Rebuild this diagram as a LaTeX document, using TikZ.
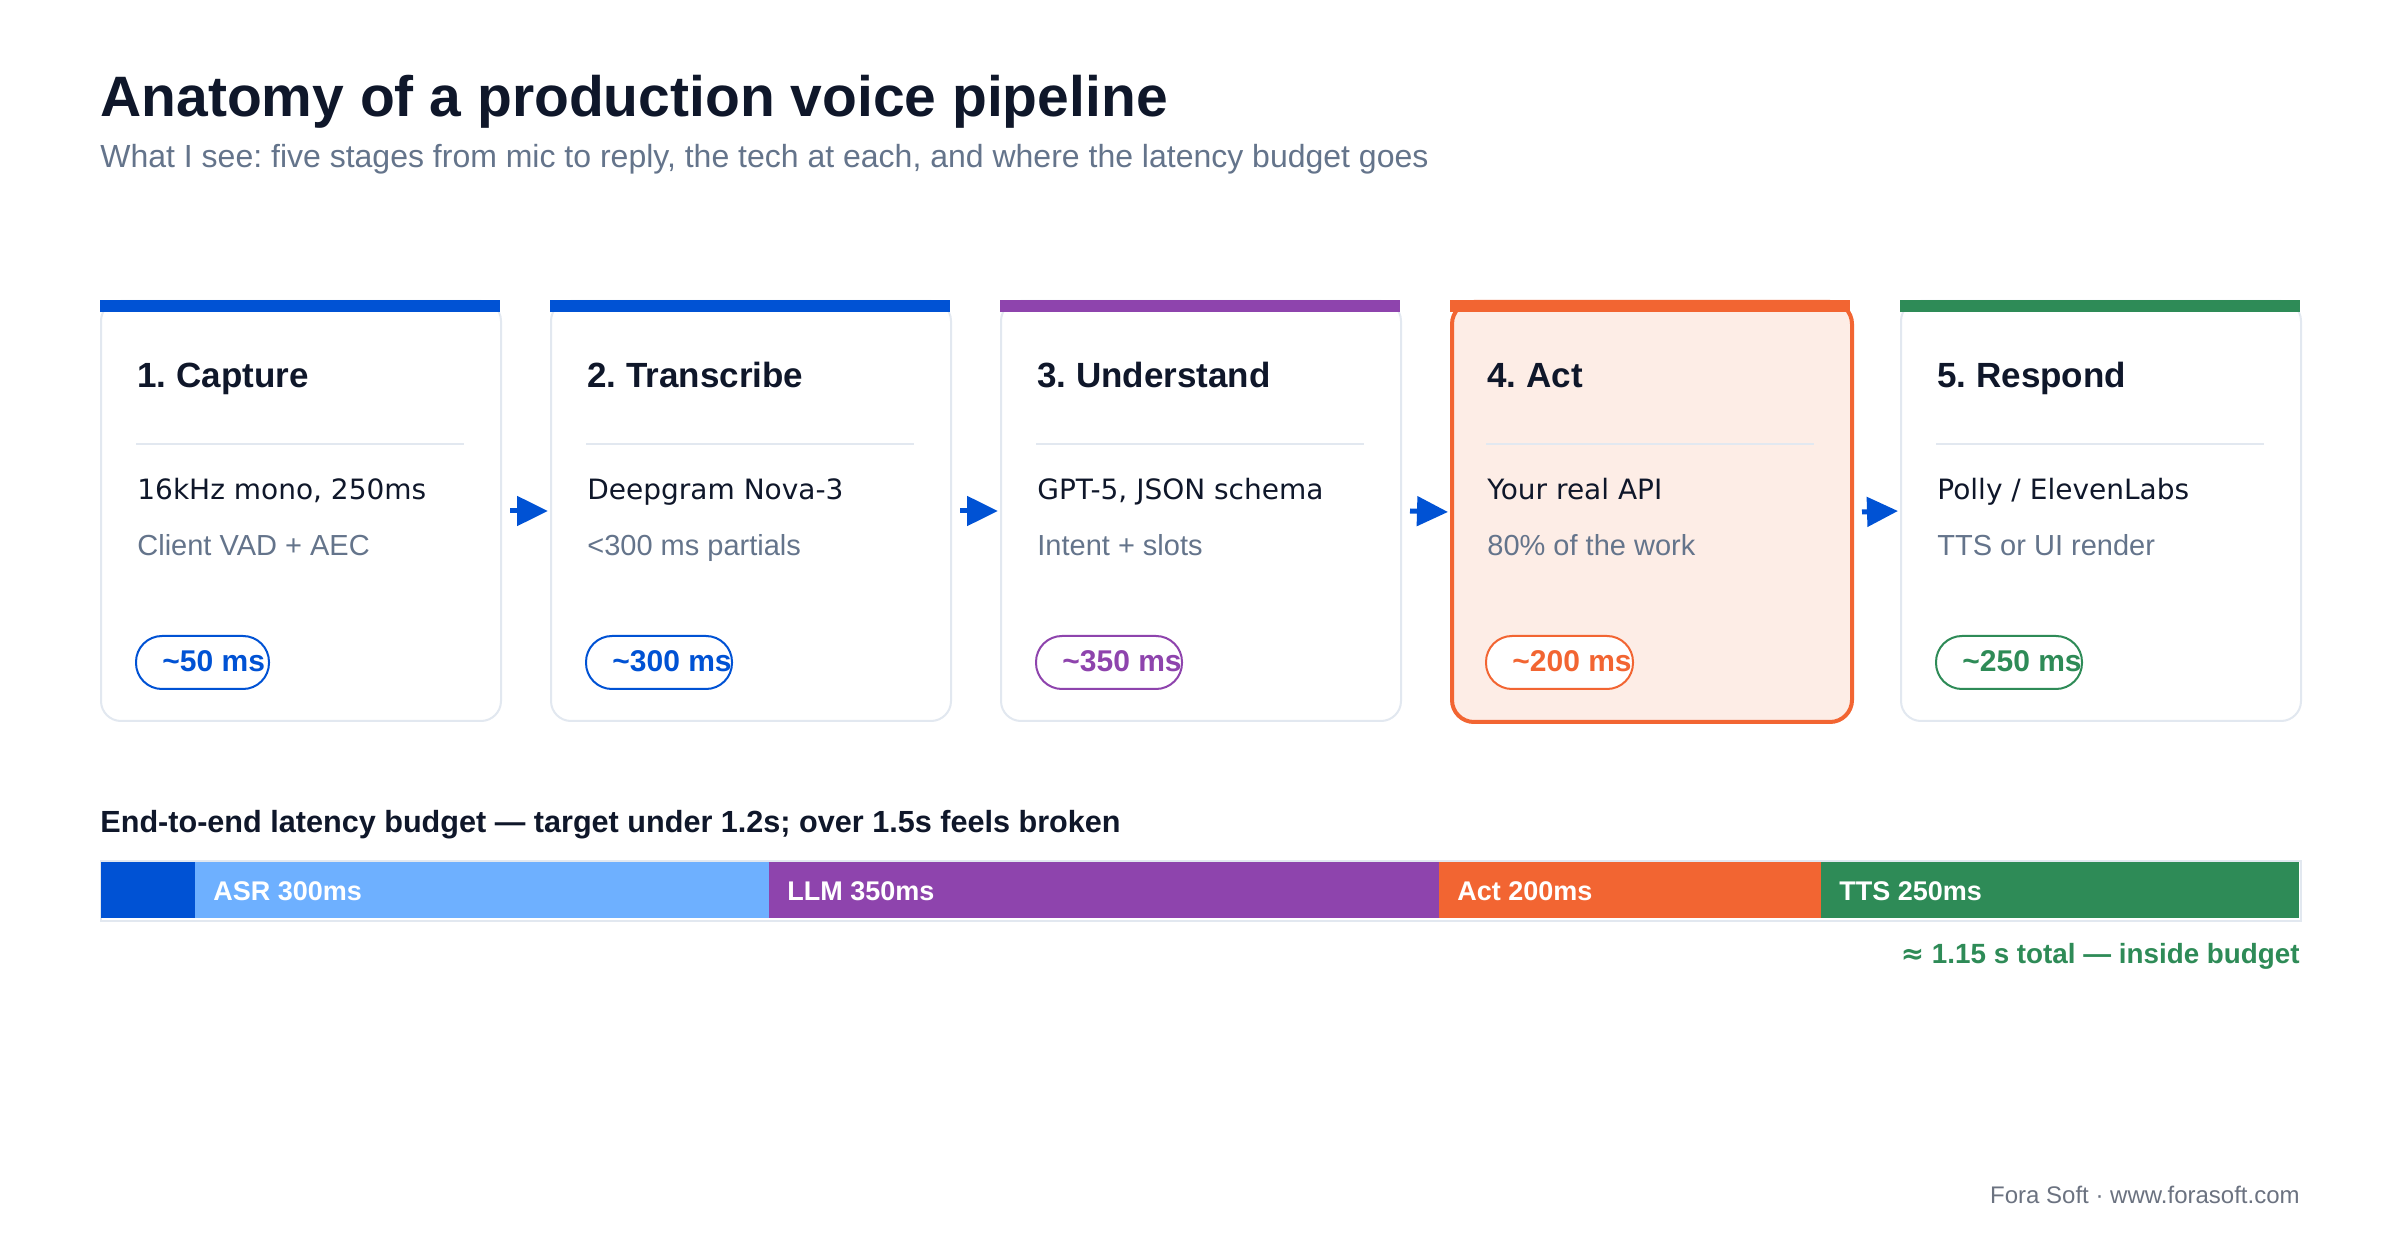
\documentclass[tikz,border=0pt]{standalone}
\usepackage{fontspec}
\setmainfont{Liberation Sans}
\newfontfamily\dejavu{DejaVu Sans}
\usetikzlibrary{arrows.meta}
\frenchspacing
\definecolor{ink}{HTML}{0F172A}
\definecolor{muted}{HTML}{64748B}
\definecolor{cardline}{HTML}{E2E8F0}
\definecolor{cblue}{HTML}{0052D4}
\definecolor{lblue}{HTML}{6EB0FF}
\definecolor{cpurple}{HTML}{8E44AD}
\definecolor{corange}{HTML}{F26532}
\definecolor{cgreen}{HTML}{2E8B57}
\definecolor{actfill}{HTML}{FDEDE6}
\definecolor{foot}{HTML}{6B7280}
\begin{document}
\begin{tikzpicture}[x=0.5pt, y=-0.5pt,
    card/.style={draw=cardline, line width=1pt, fill=white, rounded corners=10pt, minimum width=200pt, minimum height=210pt, inner sep=0pt, anchor=north west},
    topbar/.style={minimum width=200pt, minimum height=6pt, inner sep=0pt, anchor=north west},
    head/.style={anchor=base west, inner sep=0pt, text=ink, font=\fontsize{17.5}{20}\selectfont\bfseries},
    sep/.style={draw=cardline, line width=1pt},
    main/.style={anchor=base west, inner sep=0pt, text=ink, font=\dejavu\fontsize{14}{17}\selectfont},
    note/.style={anchor=base west, inner sep=0pt, text=muted, font=\fontsize{14.5}{17}\selectfont},
    pill/.style={fill=white, line width=1pt, rounded corners=13pt, minimum height=26.5pt, inner sep=0pt, anchor=north west},
    pilltext/.style={anchor=base west, inner sep=0pt, font=\fontsize{15}{18}\selectfont\bfseries},
    flow/.style={draw=cblue, line width=2.5pt, -{Triangle[length=15.5pt, width=14.5pt]}},
    seg/.style={minimum height=28pt, inner sep=0pt, anchor=north west},
    seglbl/.style={anchor=base west, inner sep=0pt, text=white, font=\fontsize{13.5}{16}\selectfont\bfseries}]
  \useasboundingbox[fill=white] (0,0) rectangle (2400,1240);
  % heading
  \node[anchor=base west, inner sep=0pt, text=ink, font=\fontsize{28.5}{34}\selectfont\bfseries] (title) at (100,117) {Anatomy of a production voice pipeline};
  \node[anchor=base west, inner sep=0pt, text=muted, font=\fontsize{16}{19}\selectfont] (subtitle) at (100,168) {What I see: five stages from mic to reply, the tech at each, and where the latency budget goes};
  % stage 1
  \node[card] (c1) at (100,300) {};
  \node[topbar, fill=cblue] (b1) at (c1.north west) {};
  \node[head] (h1) at (137,388) {1. Capture};
  \draw[sep] (136,444) -- (464,444);
  \node[main] (m1) at (137,500) {16kHz mono, 250ms};
  \node[note] (n1) at (137,556) {Client VAD + AEC};
  \node[pill, draw=cblue, minimum width=66.5pt] (p1) at (135,635) {};
  \node[pilltext, text=cblue] (t1) at (162,672) {\textasciitilde50 ms};
  % stage 2
  \node[card] (c2) at (550,300) {};
  \node[topbar, fill=cblue] (b2) at (c2.north west) {};
  \node[head] (h2) at (587,388) {2. Transcribe};
  \draw[sep] (586,444) -- (914,444);
  \node[main] (m2) at (587,500) {Deepgram Nova-3};
  \node[note] (n2) at (587,556) {<300 ms partials};
  \node[pill, draw=cblue, minimum width=73pt] (p2) at (585,635) {};
  \node[pilltext, text=cblue] (t2) at (612,672) {\textasciitilde300 ms};
  % stage 3
  \node[card] (c3) at (1000,300) {};
  \node[topbar, fill=cpurple] (b3) at (c3.north west) {};
  \node[head] (h3) at (1037,388) {3. Understand};
  \draw[sep] (1036,444) -- (1364,444);
  \node[main] (m3) at (1037,500) {GPT-5, JSON schema};
  \node[note] (n3) at (1037,556) {Intent + slots};
  \node[pill, draw=cpurple, minimum width=73pt] (p3) at (1035,635) {};
  \node[pilltext, text=cpurple] (t3) at (1062,672) {\textasciitilde350 ms};
  % stage 4 (highlighted)
  \node[card, draw=corange, fill=actfill, line width=2pt, rounded corners=11pt] (c4) at (1450,300) {};
  \node[topbar, fill=corange] (b4) at (c4.north west) {};
  \node[head] (h4) at (1487,388) {4. Act};
  \draw[sep] (1486,444) -- (1814,444);
  \node[main] (m4) at (1487,500) {Your real API};
  \node[note] (n4) at (1487,556) {80\% of the work};
  \node[pill, draw=corange, minimum width=73.5pt] (p4) at (1485,635) {};
  \node[pilltext, text=corange] (t4) at (1512,672) {\textasciitilde200 ms};
  % stage 5
  \node[card] (c5) at (1900,300) {};
  \node[topbar, fill=cgreen] (b5) at (c5.north west) {};
  \node[head] (h5) at (1937,388) {5. Respond};
  \draw[sep] (1936,444) -- (2264,444);
  \node[main] (m5) at (1937,500) {Polly / ElevenLabs};
  \node[note] (n5) at (1937,556) {TTS or UI render};
  \node[pill, draw=cgreen, minimum width=73pt] (p5) at (1935,635) {};
  \node[pilltext, text=cgreen] (t5) at (1962,672) {\textasciitilde250 ms};
  % arrows
  \draw[flow] ([xshift=4pt]c1.east) -- ([xshift=-1pt]c2.west);
  \draw[flow] ([xshift=4pt]c2.east) -- ([xshift=-1pt]c3.west);
  \draw[flow] ([xshift=4pt]c3.east) -- ([xshift=-1pt]c4.west);
  \draw[flow] ([xshift=4pt]c4.east) -- ([xshift=-1pt]c5.west);
  % latency budget
  \node[anchor=base west, inner sep=0pt, text=ink, font=\fontsize{15.3}{18}\selectfont\bfseries] (budget) at (100,832) {End-to-end latency budget — target under 1.2s; over 1.5s feels broken};
  \node[draw=cardline, line width=1pt, minimum width=1100pt, minimum height=30pt, inner sep=0pt, anchor=north west] (bar) at (100,860) {};
  \node[seg, fill=cblue, minimum width=47.5pt] (s1) at (101,862) {};
  \node[seg, fill=lblue, minimum width=287pt] (s2) at (195,862) {};
  \node[seg, fill=cpurple, minimum width=335pt] (s3) at (769,862) {};
  \node[seg, fill=corange, minimum width=191pt] (s4) at (1439,862) {};
  \node[seg, fill=cgreen, minimum width=239pt] (s5) at (1821,862) {};
  \node[seglbl] (l2) at (213,900) {ASR 300ms};
  \node[seglbl] (l3) at (787,900) {LLM 350ms};
  \node[seglbl] (l4) at (1457,900) {Act 200ms};
  \node[seglbl] (l5) at (1839,900) {TTS 250ms};
  \node[anchor=base east, inner sep=0pt, text=cgreen, font=\fontsize{13.9}{17}\selectfont\bfseries] (total) at (2300,963) {{\dejavu ≈} 1.15 s total — inside budget};
  \node[anchor=base east, inner sep=0pt, text=foot, font=\fontsize{12}{14}\selectfont] (footer) at (2300,1203) {Fora Soft · www.forasoft.com};
\end{tikzpicture}
\end{document}
